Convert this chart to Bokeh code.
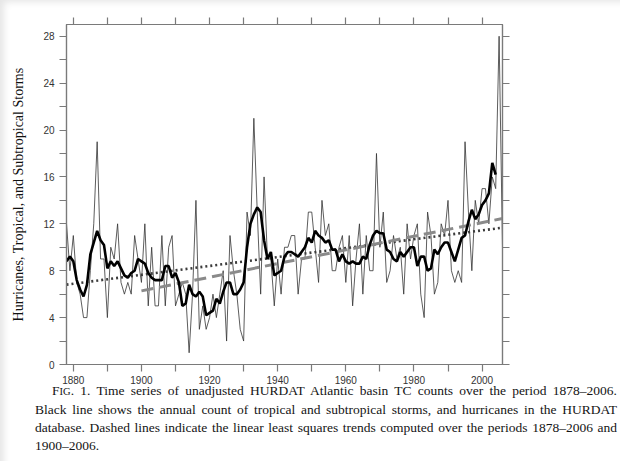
import numpy as np
from bokeh.plotting import figure
from bokeh.models import LinearAxis, FixedTicker, Range1d, Div
from bokeh.layouts import column
from bokeh.embed import file_html
from bokeh.resources import INLINE

# ---------------- data ----------------
years = list(range(1878, 2007))
counts = [
    12, 8,
    11, 7, 6, 4, 4, 8, 12, 19, 9, 9,
    4, 10, 9, 12, 7, 6, 7, 6, 11, 9,
    7, 12, 5, 10, 5, 5, 11, 5, 10, 11,
    5, 6, 7, 6, 1, 6, 14, 3, 5, 3,
    4, 6, 4, 6, 8, 2, 11, 8, 6, 3,
    2, 13, 11, 21, 13, 6, 16, 9, 9, 5,
    9, 6, 10, 10, 11, 11, 6, 9, 9, 13,
    13, 10, 7, 14, 11, 12, 8, 8, 10, 11,
    7, 11, 5, 9, 12, 6, 11, 8, 8, 18,
    10, 13, 7, 8, 11, 9, 10, 6, 12, 9,
    11, 12, 6, 4, 13, 11, 6, 7, 12, 11,
    14, 8, 7, 8, 7, 19, 13, 8, 14, 12,
    15, 15, 12, 16, 15, 28, 10,
]
# HURDAT counts for 1876-1877, used only so the 5-yr running mean reaches 1878
pre_years = [1876, 1877]
pre_counts = [5, 8]
window = 5
trend2_start = 1900

y_ticks_labeled = [0, 4, 8, 12, 16, 20, 24, 28]
y_ticks_minor = [2, 6, 10, 14, 18, 22, 26]
x_ticks_labeled = [1880, 1900, 1920, 1940, 1960, 1980, 2000]
x_ticks_minor = [1890, 1910, 1930, 1950, 1970, 1990]

y_title = "Hurricanes, Tropical, and Subtropical Storms"
caption_lines = [
    'F<span style="font-size:0.78em">IG</span>. 1. Time series of unadjusted HURDAT Atlantic basin TC counts over the period 1878\u20132006.',
    "Black line shows the annual count of tropical and subtropical storms, and hurricanes in the HURDAT",
    "database. Dashed lines indicate the linear least squares trends computed over the periods 1878\u20132006 and",
    "1900\u20132006.",
]

# ---------------- derived series ----------------
all_counts = np.array(pre_counts + counts, dtype=float)
smooth = np.convolve(all_counts, np.ones(window) / window, mode="valid")
half = window // 2
smooth_years = (np.array(pre_years + years)[half:len(all_counts) - half]).tolist()

yrs = np.array(years, dtype=float)
cts = np.array(counts, dtype=float)
c1 = np.polyfit(yrs, cts, 1)
mask = yrs >= trend2_start
c2 = np.polyfit(yrs[mask], cts[mask], 1)
t1_x = [years[0], years[-1]]
t1_y = [float(np.polyval(c1, v)) for v in t1_x]
t2_x = [trend2_start, years[-1]]
t2_y = [float(np.polyval(c2, v)) for v in t2_x]

# ---------------- figure ----------------
AX = "#7a7a7a"
p = figure(frame_width=436, frame_height=340,
           x_range=Range1d(1878, 2006), y_range=Range1d(0, 29),
           output_backend="svg", toolbar_location=None,
           x_axis_location=None, y_axis_location=None,
           min_border_left=66, min_border_right=118, min_border_top=24, min_border_bottom=20,
           background_fill_color="white", border_fill_color=None)
p.grid.visible = False
p.outline_line_color = AX
p.outline_line_width = 1.2


def style(ax):
    ax.axis_line_color = AX
    ax.axis_line_width = 1.2
    ax.major_tick_line_color = AX
    ax.minor_tick_line_color = AX
    ax.major_tick_line_width = 1.2
    ax.minor_tick_line_width = 1.2
    ax.major_tick_in = 0
    ax.major_tick_out = 7
    ax.minor_tick_in = 0
    ax.minor_tick_out = 7
    ax.major_label_text_font = "Liberation Sans"
    ax.major_label_text_font_size = "10px"
    ax.major_label_text_color = "#333333"
    ax.major_label_standoff = 4


bottom = LinearAxis(ticker=FixedTicker(ticks=x_ticks_labeled, minor_ticks=x_ticks_minor))
style(bottom)
bottom.major_label_standoff = 4
p.add_layout(bottom, "below")

left = LinearAxis(ticker=FixedTicker(ticks=y_ticks_labeled, minor_ticks=y_ticks_minor),
                  axis_label=y_title)
style(left)
left.major_label_standoff = 5
left.axis_label_text_font = "Liberation Serif"
left.axis_label_text_font_style = "normal"
left.axis_label_text_font_size = "14px"
left.axis_label_text_color = "#111111"
left.axis_label_standoff = 14
p.add_layout(left, "left")

top = LinearAxis(ticker=FixedTicker(ticks=[], minor_ticks=x_ticks_labeled + x_ticks_minor))
style(top)
p.add_layout(top, "above")

right = LinearAxis(ticker=FixedTicker(ticks=[], minor_ticks=y_ticks_labeled + y_ticks_minor))
style(right)
p.add_layout(right, "right")

p.line(years, counts, line_color="#333333", line_width=0.8)
p.line(t1_x, t1_y, line_color="#3c3c3c", line_width=2.6, line_dash="2 3")
p.line(t2_x, t2_y, line_color="#8a8a8a", line_width=3, line_dash="12 6")
p.line(smooth_years, smooth.tolist(), line_color="black", line_width=2.6)

# ---------------- caption ----------------
rows = []
for i, line in enumerate(caption_lines):
    last = i == len(caption_lines) - 1
    align = "text-align:left;" if last else "text-align:justify;text-align-last:justify;"
    indent = "padding-left:17px;" if i == 0 else ""
    rows.append(f'<div style="{align}{indent}white-space:nowrap;">{line}</div>')
html = ('<div style="font-family:\'Liberation Serif\',serif;font-size:13.5px;line-height:18px;'
        'width:582px;margin-left:30px;margin-top:-9px;color:#141414;">' + "".join(rows) + "</div>")
cap = Div(text=html, width=620, height=75)

layout = column(p, cap, spacing=0,
                styles={"box-shadow": "inset 7px 5px 7px -3px rgba(0,0,0,0.10)", "background": "white"})
open("out.html", "w").write(file_html(layout, INLINE))
